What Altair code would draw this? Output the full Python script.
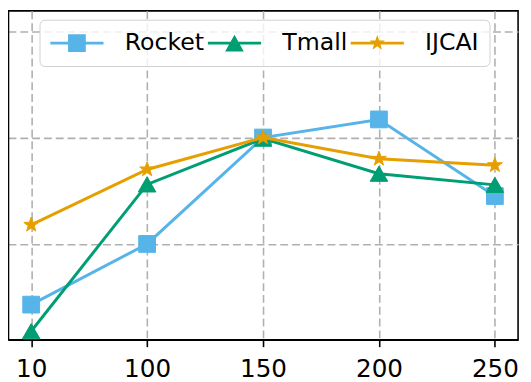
import math
import altair as alt
import pandas as pd

# ---- data ----
steps = ["10", "100", "150", "200", "250"]
series = ["Rocket", "Tmall", "IJCAI"]
colors = ["#56B4E9", "#009E73", "#E69F00"]
rocket = [0.43, 1.00, 2.00, 2.17, 1.45]
tmall = [0.18, 1.56, 1.99, 1.66, 1.555]
ijcai = [1.18, 1.70, 2.00, 1.80, 1.74]
y_grid = [1, 2, 3]
y_domain = [0.10, 3.19]

values = {"Rocket": rocket, "Tmall": tmall, "IJCAI": ijcai}
df = pd.DataFrame(
    [{"step": s, "value": v, "series": name}
     for name in series for s, v in zip(steps, values[name])]
)


# ---- symbol geometry helpers ----
def signed_area(pts):
    a = 0.0
    for i in range(len(pts)):
        x1, y1 = pts[i]
        x2, y2 = pts[(i + 1) % len(pts)]
        a += x1 * y2 - x2 * y1
    return a


def poly(pts):
    if signed_area(pts) < 0:
        pts = pts[::-1]
    return "M" + "L".join(f"{x:.4f},{y:.4f}" for x, y in pts) + "Z"


def star_pts(r, ratio=0.40):
    pts = []
    for k in range(10):
        ang = -math.pi / 2 + k * math.pi / 5
        rr = r if k % 2 == 0 else r * ratio
        pts.append((rr * math.cos(ang), rr * math.sin(ang)))
    return pts


star_path = poly(star_pts(1.0))

# legend symbol (line segment + marker); unit = sqrt(symbolSize)/2 = 12.5 px
u = 12.5
half_len, half_thick = 27 / u, 1.5 / u
line_part = poly([(-half_len, -half_thick), (half_len, -half_thick),
                  (half_len, half_thick), (-half_len, half_thick)])
sq = 9 / u
leg_square = line_part + poly([(-sq, -sq), (sq, -sq), (sq, sq), (-sq, sq)])
tr, th = 9.5 / u, 8.5 / u
leg_tri = line_part + poly([(0, -th), (tr, th), (-tr, th)])
leg_star = line_part + poly(star_pts(8.2 / u))

shape_expr = (
    f"datum.value === 'Rocket' ? '{leg_square}' : "
    f"(datum.value === 'Tmall' ? '{leg_tri}' : '{leg_star}')"
)
fill_expr = (
    f"datum.value === 'Rocket' ? '{colors[0]}' : "
    f"(datum.value === 'Tmall' ? '{colors[1]}' : '{colors[2]}')"
)

grid_style = dict(grid=True, gridColor="#b0b0b0", gridDash=[8, 4], gridWidth=1.6)

x_enc = alt.X(
    "step:O", sort=steps,
    scale=alt.Scale(type="point", padding=0.2),
    axis=alt.Axis(title=None, labelAngle=0, labelFontSize=25, labelFont="DejaVu Sans",
                  labelColor="black", tickColor="black", tickSize=7, tickWidth=1.6,
                  domainColor="black", domainWidth=1.6, labelPadding=10, **grid_style),
)
y_enc = alt.Y(
    "value:Q",
    scale=alt.Scale(domain=y_domain, nice=False, zero=False),
    axis=alt.Axis(title=None, values=y_grid, labels=False, tickColor="black",
                  tickSize=7, tickWidth=1.6, domainColor="black", domainWidth=1.6,
                  **grid_style),
)

legend = alt.Legend(
    title=None, orient="none", legendX=32, legendY=9, direction="horizontal",
    labelFontSize=24, labelFont="DejaVu Sans", labelColor="black",
    symbolSize=625, symbolStrokeWidth=0, symbolOffset=14.5, labelOffset=36,
    columnPadding=3, padding=11, strokeColor="#d0d0d0", fillColor="rgba(255,255,255,0.8)",
    cornerRadius=5,
    symbolType={"expr": shape_expr},
    symbolFillColor={"expr": fill_expr},
    symbolOpacity=1,
)

color_scale = alt.Scale(domain=series, range=colors)
shapes = {"Rocket": ("square", 290), "Tmall": ("triangle-up", 320), "IJCAI": (star_path, 250)}

layers = []
for name, col in zip(series, colors):
    sub = df[df["series"] == name]
    line = alt.Chart(sub).mark_line(strokeWidth=3, color=col).encode(x=x_enc, y=y_enc)
    shp, size = shapes[name]
    pts = alt.Chart(sub).mark_point(
        filled=True, opacity=1, shape=shp, size=size, stroke=col, strokeWidth=1
    ).encode(
        x=x_enc, y=y_enc,
        color=alt.Color("series:N", scale=color_scale, legend=legend),
    )
    layers += [line, pts]

chart = alt.layer(*layers).properties(
    width=518, height=334,
    autosize=alt.AutoSizeParams(type="none"),
    padding={"left": 0, "top": 0, "right": 5, "bottom": 40},
).configure_view(stroke="black", strokeWidth=1.6)

chart.save("out.html", embed_options={"renderer": "svg", "actions": False})
